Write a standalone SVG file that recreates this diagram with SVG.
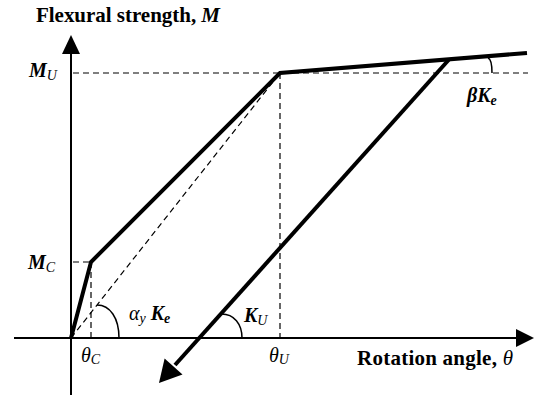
<svg xmlns="http://www.w3.org/2000/svg" width="534" height="397" viewBox="0 0 534 397" font-family="'Liberation Serif', 'DejaVu Serif', serif">
<style>
text{font-family:'Liberation Serif','DejaVu Serif',serif;fill:#000}
.t{font-size:21px;font-weight:bold}
.m{font-size:20px;font-weight:bold;font-style:italic}
.s{font-size:14px;font-style:italic;font-weight:normal}
.sb{font-size:14px;font-style:italic;font-weight:bold}
.th{font-size:20px;font-style:italic}
.ax{stroke:#000;stroke-width:2;fill:none}
.dash{stroke:#000;stroke-width:1.2;stroke-dasharray:6,4;fill:none}
.thick{stroke:#000;stroke-width:4;fill:none;stroke-linejoin:miter}
.arc{stroke:#000;stroke-width:1.5;fill:none}
</style>
<g id="axes">
<line class="ax" x1="71" y1="395" x2="71" y2="52"/>
<polygon points="71,35 62,54 80,54"/>
<line class="ax" x1="14" y1="338" x2="518" y2="338"/>
<polygon points="534,338 516,329 516,347"/>
</g>
<g id="guides">
<line class="dash" x1="73" y1="73" x2="528" y2="73"/>
<line class="dash" x1="73" y1="262" x2="91" y2="262"/>
<line class="dash" x1="91" y1="262" x2="91" y2="338"/>
<line class="dash" x1="280" y1="73" x2="280" y2="338"/>
<line class="dash" x1="71" y1="338" x2="280" y2="73"/>
</g>
<g id="curve">
<polyline class="thick" points="71,338 91,262 280,73 527,53"/>
</g>
<g id="unloading">
<line class="thick" x1="449" y1="59.5" x2="175" y2="365"/>
<polygon points="159,383 164.6,358.6 182.5,374.6"/>
</g>
<g id="arcs">
<path class="arc" d="M97,305 C110,305 119,318 119,338"/>
<path class="arc" d="M221.5,314 C234,314 242,324 242,338"/>
<path class="arc" d="M488,58 C491,59 492,63 492,73"/>
</g>
<g id="labels">
<text class="t" x="36" y="22" textLength="184" lengthAdjust="spacing">Flexural strength, <tspan font-style="italic">M</tspan></text>
<text class="t" x="357" y="365" textLength="156" lengthAdjust="spacing">Rotation angle, <tspan font-style="italic" font-weight="normal">θ</tspan></text>
<text class="m" x="29" y="77">M<tspan class="s" dy="3">U</tspan></text>
<text class="m" x="28" y="269">M<tspan class="s" dy="3">C</tspan></text>
<text class="th" x="81" y="362">θ<tspan class="s" dy="2">C</tspan></text>
<text class="th" x="269" y="362">θ<tspan class="s" dy="2">U</tspan></text>
<text class="m" x="244" y="322">K<tspan class="s" dy="3">U</tspan></text>
<text class="m" x="129" y="320"><tspan font-weight="normal">α</tspan><tspan class="s" dy="3">y</tspan><tspan dy="-3"> K</tspan><tspan class="sb" dy="3">e</tspan></text>
<text class="m" x="467" y="102">βK<tspan class="sb" dy="3">e</tspan></text>
</g>
</svg>
